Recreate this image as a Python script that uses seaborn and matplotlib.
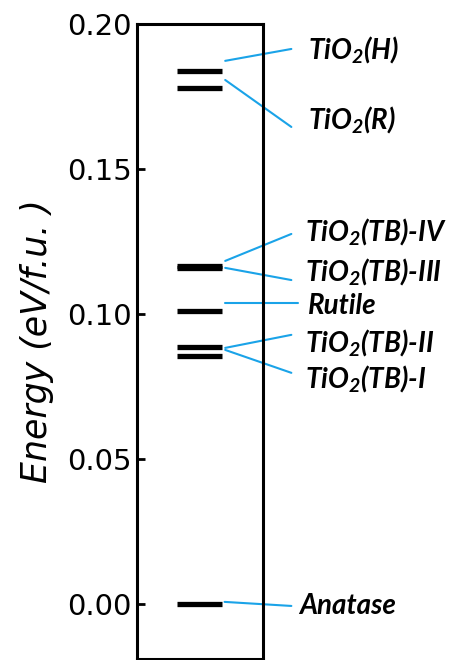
import pandas as pd
import matplotlib.pyplot as plt
import matplotlib.transforms as mtransforms
import seaborn as sns

# energias relativas (eV/f.u.)
phases = ['TiO2(H)', 'TiO2(R)', 'TiO2(TB)-IV', 'TiO2(TB)-III', 'Rutile',
          'TiO2(TB)-II', 'TiO2(TB)-I', 'Anatase']
energies = [0.1839, 0.1781, 0.1167, 0.1157, 0.1009, 0.0887, 0.0856, 0.0]
labels = [r'TiO$_2$(H)', r'TiO$_2$(R)', r'TiO$_2$(TB)-IV', r'TiO$_2$(TB)-III',
          'Rutile', r'TiO$_2$(TB)-II', r'TiO$_2$(TB)-I', 'Anatase']

# posicion de las etiquetas y de las lineas guia
line_start_y = [0.1873, 0.1807, 0.1183, 0.1159, 0.1038, 0.0883, 0.0876, 0.0007]
line_end_y = [0.1914, 0.1645, 0.1276, 0.1117, 0.1038, 0.0928, 0.0797, -0.0007]
text_y = [0.1912, 0.1669, 0.1283, 0.1145, 0.1028, 0.0903, 0.0779, -0.0007]

sns.set_style('white')
plt.rcParams['text.color'] = 'black'
plt.rcParams['ytick.color'] = 'black'
plt.rcParams['axes.labelcolor'] = 'black'
plt.rcParams['mathtext.fontset'] = 'custom'
plt.rcParams['mathtext.rm'] = 'Lato:bold:italic'
plt.rcParams['mathtext.it'] = 'Lato:bold:italic'

rows = []
for p, e in zip(phases, energies):
    rows.append({'phase': p, 'x': 0.315, 'E': e})
    rows.append({'phase': p, 'x': 0.672, 'E': e})
df = pd.DataFrame(rows)

fig = plt.figure(figsize=(4.57, 6.6), dpi=100)
ax = fig.add_axes([0.2998, 0.0015, 0.2757, 0.9621])

sns.lineplot(data=df, x='x', y='E', units='phase', estimator=None,
             color='black', lw=3.8, ax=ax, solid_capstyle='butt')

trans = mtransforms.blended_transform_factory(ax.transAxes, ax.transData)
for i in range(len(phases)):
    x0 = 0.70 if labels[i] not in ('Rutile', 'Anatase') else 0.695
    x1 = 1.278 if labels[i] == 'Rutile' else 1.225
    ax.plot([x0, x1], [line_start_y[i], line_end_y[i]], color='#1aa3e8',
            lw=1.5, transform=trans, clip_on=False)
    tx = 1.36 if labels[i] in ('TiO$_2$(H)', 'TiO$_2$(R)', 'Rutile') else 1.33
    if labels[i] == 'Anatase':
        tx = 1.29
    ax.text(tx, text_y[i], labels[i], transform=trans, ha='left', va='center',
            fontsize=20, fontweight='bold', fontstyle='italic', family='Lato')

ax.set_xlim(0, 1)
ax.set_ylim(-0.019, 0.20)
ax.set_yticks([0.0, 0.05, 0.10, 0.15, 0.20])
ax.set_yticklabels(['0.00', '0.05', '0.10', '0.15', '0.20'], fontsize=21)
ax.set_xticks([])
ax.set_xlabel('')
ax.set_ylabel('Energy (eV/f.u. )', fontsize=25, fontstyle='italic', labelpad=9)
ax.tick_params(axis='y', direction='in', length=6, width=2, left=True, pad=4)
for s in ax.spines.values():
    s.set_linewidth(2.2)
    s.set_color('black')

fig.savefig('out.png', dpi=100)
